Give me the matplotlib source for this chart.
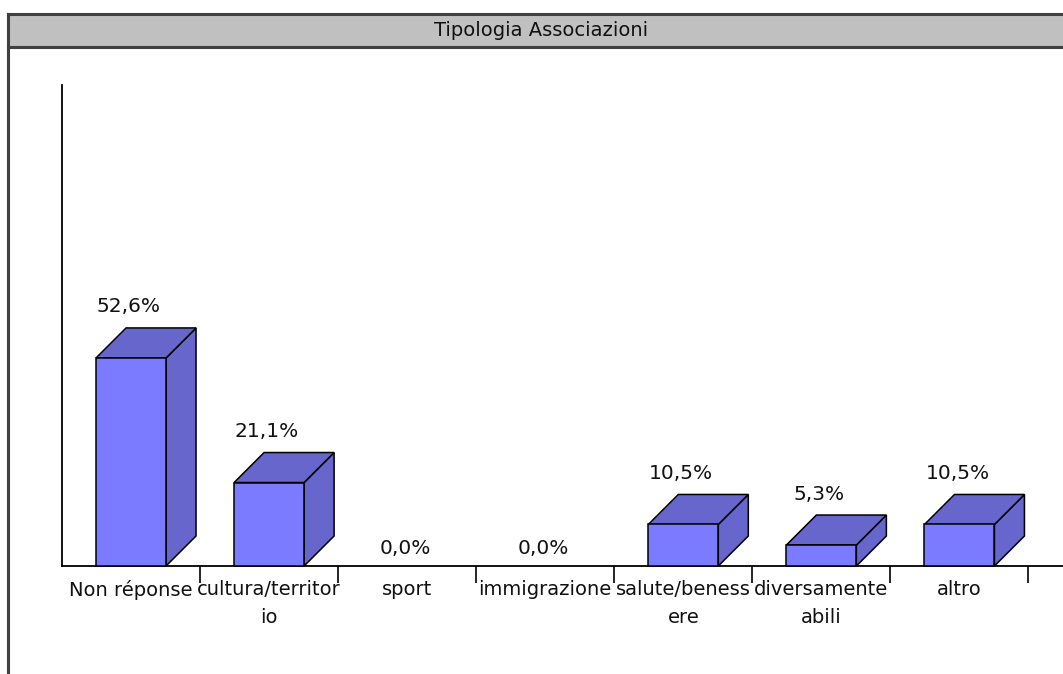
import matplotlib
matplotlib.use("Agg")
import matplotlib.pyplot as plt
from matplotlib.patches import Rectangle, Polygon
import numpy as np

# ---- data ----
title = "Tipologia Associazioni"
categories = ["Non réponse", "cultura/territorio", "sport", "immigrazione",
              "salute/benessere", "diversamente abili", "altro"]
tick_labels = ["Non réponse", "cultura/territor\nio", "sport", "immigrazione",
               "salute/beness\nere", "diversamente\nabili", "altro"]
values = [52.6, 21.1, 0.0, 0.0, 10.5, 5.3, 10.5]
value_labels = ["52,6%", "21,1%", "0,0%", "0,0%", "10,5%", "5,3%", "10,5%"]

# ---- style ----
W, H = 1063, 674
FRONT = "#7B7BFF"
SIDE = "#6666CC"
FONT = "DejaVu Sans"
plt.rcParams["font.family"] = [FONT]

fig = plt.figure(figsize=(W / 100, H / 100), dpi=100)
fig.patch.set_facecolor("white")

# title bar and outer frame
def fx(px):
    return px / W

def fy(py):
    return 1 - py / H

bar_top, bar_bot, frame_left = 14, 47, 8
fig.patches.append(Rectangle((fx(frame_left), fy(bar_bot)), 1 - fx(frame_left) + 0.01,
                             fy(bar_top) - fy(bar_bot), transform=fig.transFigure,
                             facecolor="#C0C0C0", edgecolor="none", zorder=0))
for yy in (bar_top, bar_bot):
    fig.add_artist(plt.Line2D([fx(frame_left), 1.0], [fy(yy), fy(yy)],
                              transform=fig.transFigure, color="#404040", lw=2.2))
fig.add_artist(plt.Line2D([fx(frame_left), fx(frame_left)], [fy(bar_top), 0.0],
                          transform=fig.transFigure, color="#404040", lw=2.2))
fig.text(fx(541), fy(31), title, ha="center", va="center", fontsize=14, color="#111111")

# plotting axes
ax_left, ax_bottom, ax_top = 62, 566, 85
ax = fig.add_axes([fx(ax_left), fy(ax_bottom), 1 - fx(ax_left), fy(ax_top) - fy(ax_bottom)])
ax.set_xlim(-0.5, 6.75)
ax.set_ylim(0, 121.6)
ax.set_facecolor("none")
for s in ("top", "right"):
    ax.spines[s].set_visible(False)
for s in ("left", "bottom"):
    ax.spines[s].set_linewidth(1.3)
    ax.spines[s].set_color("black")
ax.set_yticks([])

x = np.arange(len(categories))
ax.set_xticks(x)
ax.set_xticklabels(tick_labels, fontsize=14, linespacing=1.58, color="#111111")
ax.tick_params(axis="x", which="major", length=0, pad=10)
ax.set_xticks(x + 0.5, minor=True)
ax.tick_params(axis="x", which="minor", length=12.2, width=1.2, direction="out")

# 3D bars
fig.canvas.draw()
depth_px = 30
inv = ax.transData.inverted()
p0 = inv.transform(ax.transData.transform((0, 0)))
p1 = inv.transform(ax.transData.transform((0, 0)) + np.array([depth_px, depth_px]))
ddx, ddy = p1 - p0
bw = 0.507
lw = 1.1
for xi, v in zip(x, values):
    if v <= 0:
        continue
    l, r = xi - bw / 2, xi + bw / 2
    side = Polygon([(r, 0), (r + ddx, ddy), (r + ddx, v + ddy), (r, v)],
                   closed=True, facecolor=SIDE, edgecolor="black", lw=lw, zorder=3, clip_on=False)
    top = Polygon([(l, v), (r, v), (r + ddx, v + ddy), (l + ddx, v + ddy)],
                  closed=True, facecolor=SIDE, edgecolor="black", lw=lw, zorder=3, clip_on=False)
    front = Rectangle((l, 0), bw, v, facecolor=FRONT, edgecolor="black", lw=lw, zorder=4, clip_on=False)
    ax.add_patch(side)
    ax.add_patch(top)
    ax.add_patch(front)

for xi, v, lab in zip(x, values, value_labels):
    off = 51 if v > 0 else 18
    ax.annotate(lab, xy=(xi - 0.015, v), xytext=(0, off * 0.72), textcoords="offset points",
                ha="center", va="center", fontsize=14.5, color="#111111")

fig.savefig("out.png", dpi=100, facecolor="white")
